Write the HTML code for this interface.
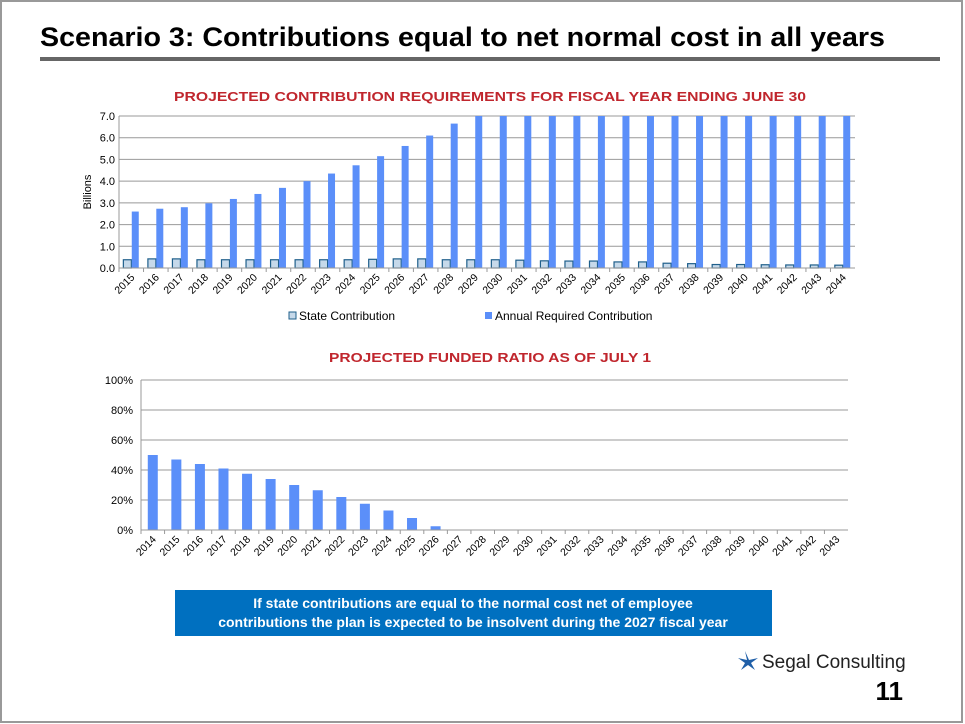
<!DOCTYPE html>
<html><head><meta charset="utf-8"><style>
body{margin:0;background:#fff;}
svg{display:block;font-family:"Liberation Sans",Arial,sans-serif;}
</style></head><body>
<svg id="s" width="965" height="724" viewBox="0 0 965 724">
<rect x="1" y="1" width="961" height="721" fill="#fff" stroke="#999" stroke-width="2"/>
<text x="40" y="46" font-size="27" font-weight="bold" textLength="845" lengthAdjust="spacingAndGlyphs" fill="#000">Scenario 3: Contributions equal to net normal cost in all years</text>
<rect x="40" y="57" width="900" height="4" fill="#666"/>
<text x="490" y="101" font-size="13" font-weight="bold" fill="#c0262d" text-anchor="middle" textLength="632" lengthAdjust="spacingAndGlyphs">PROJECTED CONTRIBUTION REQUIREMENTS FOR FISCAL YEAR ENDING JUNE 30</text>
<g id="top"></g>
<text x="490" y="362" font-size="13" font-weight="bold" fill="#c0262d" text-anchor="middle" textLength="322" lengthAdjust="spacingAndGlyphs">PROJECTED FUNDED RATIO AS OF JULY 1</text>
<g id="bot"></g>
<rect x="175" y="590" width="597" height="46" fill="#0070c0"/>
<text x="473" y="608" font-size="14" font-weight="bold" fill="#fff" text-anchor="middle">If state contributions are equal to the normal cost net of employee</text>
<text x="473" y="627" font-size="14" font-weight="bold" fill="#fff" text-anchor="middle">contributions the plan is expected to be insolvent during the 2027 fiscal year</text>
<g>
<path d="M745 651 L749 660 L758 658 L751 663 L755 670 L748 665 L741 670 L745 663 L738 658 L747 660 Z" fill="#1f5fa8"/>
<text x="762" y="668" font-size="19" fill="#222">Segal Consulting</text>
</g>
<text x="903" y="700" font-size="26" font-weight="bold" fill="#000" text-anchor="end">11</text>
</svg>
<script>
const NS="http://www.w3.org/2000/svg";
const topYears=[];for(let y=2015;y<=2044;y++)topYears.push(String(y));
const stateContrib=[0.38,0.42,0.42,0.38,0.38,0.38,0.38,0.38,0.38,0.38,0.40,0.42,0.42,0.38,0.38,0.38,0.36,0.33,0.32,0.32,0.28,0.28,0.22,0.20,0.16,0.16,0.15,0.14,0.14,0.13];
const arcContrib=[2.6,2.73,2.8,2.98,3.18,3.41,3.69,4.0,4.35,4.73,5.15,5.62,6.1,6.65,7,7,7,7,7,7,7,7,7,7,7,7,7,7,7,7];
const topTicks=["0.0","1.0","2.0","3.0","4.0","5.0","6.0","7.0"];
const botYears=[];for(let y=2014;y<=2043;y++)botYears.push(String(y));
const fundedRatio=[50,47,44,41,37.5,34,30,26.5,22,17.5,13,8,2.5,0,0,0,0,0,0,0,0,0,0,0,0,0,0,0,0,0];
const botTicks=["0%","20%","40%","60%","80%","100%"];

function el(p,tag,a){const e=document.createElementNS(NS,tag);for(const k in a)e.setAttribute(k,a[k]);p.appendChild(e);return e;}

// top chart
(function(){
const g=document.getElementById('top');
const x0=119,x1=855,yT=116,yB=268,max=7;
const bw=(x1-x0)/topYears.length;
const ys=v=>yB-(v/max)*(yB-yT);
topTicks.forEach(t=>{const y=ys(parseFloat(t));
 const l=el(g,'line',{x1:x0,x2:x1,y1:y,y2:y,stroke:'#999','stroke-width':1});
 
 const tx=el(g,'text',{x:x0-4,y:y+4,'font-size':11,'text-anchor':'end',fill:'#000'});tx.textContent=t;
 });
const ax=el(g,'line',{x1:x0,x2:x0,y1:yT,y2:yB,stroke:'#999'});

const yt=el(g,'text',{x:0,y:0,'font-size':11,'text-anchor':'middle',transform:`translate(91,${(yT+yB)/2}) rotate(-90)`});yt.textContent='Billions';

topYears.forEach((yr,i)=>{
 const cx=x0+bw*i;
 const s=el(g,'rect',{x:cx+bw*0.3-3,y:ys(stateContrib[i]),width:8,height:yB-ys(stateContrib[i]),fill:'#c6d9ea',stroke:'#1f5f8b','stroke-width':1.2});
 
 const a=el(g,'rect',{x:cx+bw*0.5+0.5,y:ys(arcContrib[i]),width:7,height:yB-ys(arcContrib[i]),fill:'#5b8ff9'});
 
 const tk=el(g,'line',{x1:cx,x2:cx,y1:yB,y2:yB+4,stroke:'#999'});
 
 const lx=cx+bw/2+4,ly=yB+10;
 const t=el(g,'text',{x:lx,y:ly,'font-size':10.5,'text-anchor':'end',transform:`rotate(-45 ${lx} ${ly})`});t.textContent=yr;
 
});
const bx=el(g,'line',{x1:x0,x2:x1,y1:yB,y2:yB,stroke:'#999'});

const l1=el(g,'rect',{x:289,y:312,width:7,height:7,fill:'#c6d9ea',stroke:'#1f5f8b'});

const t1=el(g,'text',{x:299,y:320,'font-size':12});t1.textContent='State Contribution';

const l2=el(g,'rect',{x:485,y:312,width:7,height:7,fill:'#5b8ff9'});

const t2=el(g,'text',{x:495,y:320,'font-size':12});t2.textContent='Annual Required Contribution';

})();

// bottom chart
(function(){
const g=document.getElementById('bot');
const x0=141,x1=848,yT=380,yB=530,max=100;
const bw=(x1-x0)/botYears.length;
const ys=v=>yB-(v/max)*(yB-yT);
botTicks.forEach(t=>{const y=ys(parseFloat(t));
 const l=el(g,'line',{x1:x0,x2:x1,y1:y,y2:y,stroke:'#999'});
 
 const tx=el(g,'text',{x:x0-8,y:y+4,'font-size':11,'text-anchor':'end'});tx.textContent=t;
 });
const ax=el(g,'line',{x1:x0,x2:x0,y1:yT,y2:yB,stroke:'#999'});

botYears.forEach((yr,i)=>{
 const cx=x0+bw*i;
 if(fundedRatio[i]>0){
 const b=el(g,'rect',{x:cx+bw/2-5,y:ys(fundedRatio[i]),width:10,height:yB-ys(fundedRatio[i]),fill:'#5b8ff9'});
 }
 const tk=el(g,'line',{x1:cx,x2:cx,y1:yB,y2:yB+4,stroke:'#999'});
 
 const lx=cx+bw/2+4,ly=yB+10;
 const t=el(g,'text',{x:lx,y:ly,'font-size':10.5,'text-anchor':'end',transform:`rotate(-45 ${lx} ${ly})`});t.textContent=yr;
 
});
const bx=el(g,'line',{x1:x0,x2:x1,y1:yB,y2:yB,stroke:'#999'});

})();
</script>
</body></html>
